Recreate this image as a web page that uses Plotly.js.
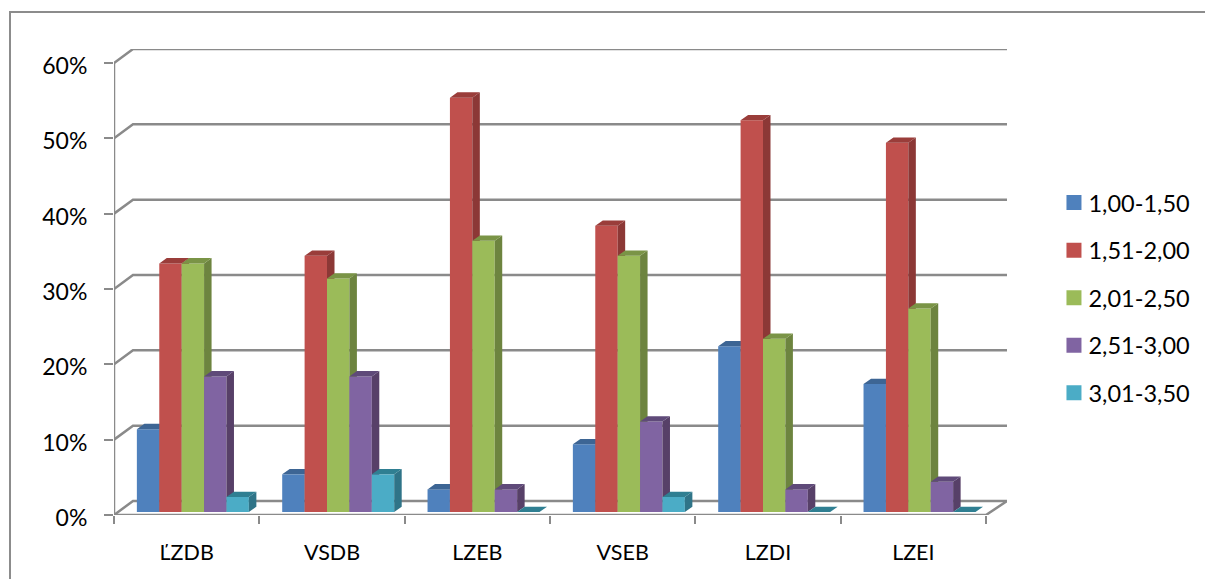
<!DOCTYPE html>
<html>
<head>
<meta charset="utf-8">
<script src="https://cdn.plot.ly/plotly-3.0.1.min.js"></script>
<style>html,body{margin:0;padding:0;background:#fff;overflow:hidden}#chart{width:1205px;height:579px}</style>
</head>
<body>
<div id="chart"></div>
<script>
var categories = ['ĽZDB', 'VSDB', 'LZEB', 'VSEB', 'LZDI', 'LZEI'];
var seriesNames = ['1,00-1,50', '1,51-2,00', '2,01-2,50', '2,51-3,00', '3,01-3,50'];
var values100150 = [11, 5, 3, 9, 22, 17];
var values151200 = [33, 34, 55, 38, 52, 49];
var values201250 = [33, 31, 36, 34, 23, 27];
var values251300 = [18, 18, 3, 12, 3, 4];
var values301350 = [2, 5, 0, 2, 0, 0];
var yTicks = [0, 10, 20, 30, 40, 50, 60];
var frontColors = ['#4F81BD', '#C0504D', '#9BBB59', '#8064A2', '#4BACC6'];
var topColors = ['#3D6594', '#9A3D3A', '#7A9446', '#5F4A79', '#2F7F92'];
var sideColors = ['#385D8A', '#8C3836', '#6D843F', '#574068', '#2F7488'];

var allValues = [values100150, values151200, values201250, values251300, values301350];

// pixel-derived geometry of the pseudo-3D box, expressed in axis units
var pxX = 872 / 6, pxY = 452 / 60;
var wallDx = 19 / pxX, wallDy = 14 / pxY;
var barW = 22.4 / pxX, barDx = 7.5 / pxX, barDy = 5.3 / pxY;
var barLift = 3 / pxY, barShift = 6.2 / pxX;
var xRange = [-0.5, 5.5 + 21 / pxX], yRange = [0, 466 / pxY];
var gray = '#8A8A8A';

// walls, gridlines and axis lines
var gx = [], gy = [];
yTicks.forEach(function (v) {
  gx.push(-0.5, -0.5 + wallDx, xRange[1], null);
  gy.push(v, v + wallDy, v + wallDy, null);
});
gx.push(-0.5, -0.5, null, -0.5, 5.5, xRange[1]);
gy.push(0, yTicks[yTicks.length - 1], null, 0, 0, wallDy);

var traces = [{
  type: 'scatter', mode: 'lines', x: gx, y: gy, xaxis: 'x', yaxis: 'y',
  line: {color: gray, width: 2.5}, cliponaxis: false, showlegend: false, hoverinfo: 'skip'
}];

allValues.forEach(function (vals, k) {
  var ax = String(k + 2);
  var cx = vals.map(function (_, i) { return i + barShift + (k - 2) * barW; });
  traces.push({
    type: 'bar', x: cx, y: vals, base: barLift, width: barW, xaxis: 'x' + ax, yaxis: 'y' + ax,
    marker: {color: frontColors[k], line: {width: 0}}, showlegend: false, hoverinfo: 'y', name: seriesNames[k]
  });
  var tx = [], ty = [], sx = [], sy = [];
  vals.forEach(function (v, i) {
    var l = cx[i] - barW / 2, r = cx[i] + barW / 2, t = v + barLift;
    tx.push(l, r, r + barDx, l + barDx, l, null);
    ty.push(t, t, t + barDy, t + barDy, t, null);
    sx.push(r, r + barDx, r + barDx, r, r, null);
    sy.push(barLift, barLift + barDy, t + barDy, t, barLift, null);
  });
  traces.push({
    type: 'scatter', mode: 'none', x: sx, y: sy, fill: 'toself', fillcolor: sideColors[k],
    xaxis: 'x' + ax, yaxis: 'y' + ax, showlegend: false, hoverinfo: 'skip', cliponaxis: false
  });
  traces.push({
    type: 'scatter', mode: 'none', x: tx, y: ty, fill: 'toself', fillcolor: topColors[k],
    xaxis: 'x' + ax, yaxis: 'y' + ax, showlegend: false, hoverinfo: 'skip', cliponaxis: false
  });
});

// legend entries
seriesNames.forEach(function (n, k) {
  traces.push({
    type: 'scatter', mode: 'markers', x: [null], y: [null], name: n, legendgroup: n,
    marker: {symbol: 'square', size: 15, color: frontColors[k]}, xaxis: 'x', yaxis: 'y', hoverinfo: 'skip'
  });
});

var fontFamily = 'Lato, "Open Sans", sans-serif';
var layout = {
  width: 1205, height: 579,
  margin: {l: 114, r: 198, t: 49, b: 64, pad: 0},
  paper_bgcolor: '#fff', plot_bgcolor: 'rgba(0,0,0,0)',
  font: {family: fontFamily, size: 23, color: '#000'},
  showlegend: true,
  legend: {
    xref: 'container', x: 0.8701, xanchor: 'left', y: 0.466, yanchor: 'middle',
    traceorder: 'grouped', tracegroupgap: 14, itemsizing: 'trace', itemwidth: 30,
    font: {family: fontFamily, size: 23.5, color: '#000'}, bgcolor: 'rgba(0,0,0,0)'
  },
  xaxis: {
    range: xRange, tickmode: 'array', tickvals: [0, 1, 2, 3, 4, 5], ticktext: categories,
    ticks: '', ticklen: 0, showgrid: false, zeroline: false, showline: false,
    ticklabelstandoff: 22, tickfont: {size: 21.5},
    minor: {tickmode: 'array', tickvals: [-0.5, 0.5, 1.5, 2.5, 3.5, 4.5, 5.5], ticks: 'outside', ticklen: 8, tickwidth: 2, tickcolor: gray, showgrid: false}
  },
  yaxis: {
    range: yRange, tickmode: 'array', tickvals: yTicks, ticktext: yTicks.map(function (v) { return v + '%'; }),
    ticks: 'outside', ticklen: 9, tickwidth: 2, tickcolor: gray, ticklabelshift: 3,
    showgrid: false, zeroline: false, showline: false, ticklabelstandoff: 12, tickfont: {size: 23}
  },
  shapes: [{
    type: 'rect', xref: 'paper', yref: 'paper',
    x0: (10 - 114) / 893, x1: (1225 - 114) / 893, y0: (515 - 600) / 466, y1: (515 - 12) / 466,
    line: {color: '#8C8C8C', width: 2}, fillcolor: 'rgba(0,0,0,0)', layer: 'below'
  }]
};
for (var a = 2; a <= 6; a++) {
  layout['xaxis' + a] = {range: xRange, overlaying: 'x', visible: false, anchor: 'y' + a};
  layout['yaxis' + a] = {range: yRange, overlaying: 'y', visible: false, anchor: 'x' + a};
}
Plotly.newPlot('chart', traces, layout, {displayModeBar: false, staticPlot: true}).then(function () {
  // the reference keeps its legend swatches closer to the text than Plotly's minimum item width allows
  document.querySelectorAll('#chart .legendsymbols').forEach(function (g) {
    g.setAttribute('transform', 'translate(5.5,0)');
  });
});
</script>
</body>
</html>
